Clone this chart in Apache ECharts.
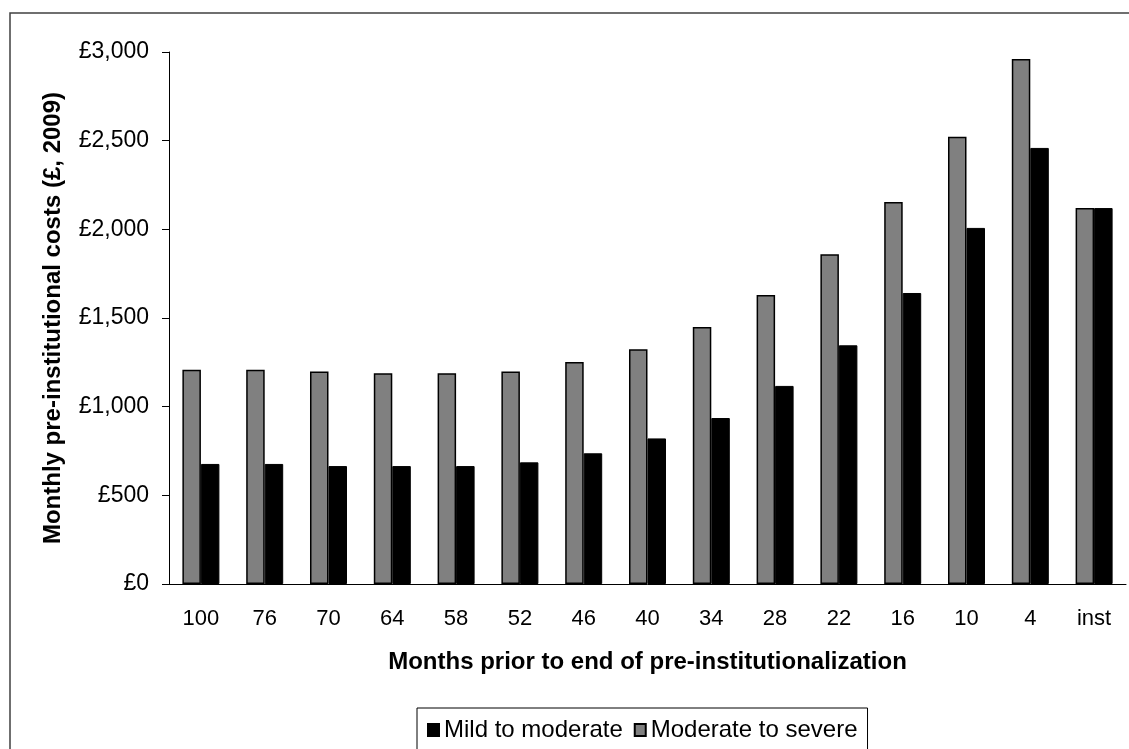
<!DOCTYPE html>
<html>
<head>
<meta charset="utf-8">
<script src="https://cdn.jsdelivr.net/npm/echarts@6/dist/echarts.min.js"></script>
<style>
html,body{margin:0;padding:0;background:#fff;}
#chart{width:1129px;height:749px;}
</style>
</head>
<body>
<div id="chart"></div>
<script>
const categories = ['100','76','70','64','58','52','46','40','34','28','22','16','10','4','inst'];
const moderateToSevere = [1208, 1208, 1199, 1188, 1188, 1199, 1252, 1324, 1449, 1630, 1859, 2154, 2522, 2961, 2120];
const mildToModerate = [677, 677, 665, 665, 665, 686, 737, 821, 936, 1117, 1346, 1641, 2008, 2459, 2120];
const yTicks = {min: 0, max: 3000, interval: 500};

const FONT = '"Liberation Sans", Arial, sans-serif';
const chart = echarts.init(document.getElementById('chart'), null, {renderer: 'canvas'});
chart.setOption({
  animation: false,
  backgroundColor: '#fff',
  graphic: [{
    type: 'rect', silent: true, z: -1,
    shape: {x: 10, y: 13, width: 1300, height: 900},
    style: {fill: 'none', stroke: '#404040', lineWidth: 1.5}
  }],
  grid: {left: 169, top: 52, right: 3, bottom: 165, containLabel: false},
  legend: {
    left: 417, top: 708,
    data: ['Mild to moderate', 'Moderate to severe'],
    icon: 'rect',
    itemWidth: 11, itemHeight: 12, itemGap: 11,
    padding: [10, 10, 20, 10],
    borderColor: '#000', borderWidth: 1, borderRadius: 0,
    backgroundColor: '#fff',
    textStyle: {fontFamily: FONT, fontSize: 24, color: '#000'}
  },
  xAxis: {
    type: 'category',
    data: categories,
    name: 'Months prior to end of pre-institutionalization',
    nameLocation: 'middle',
    nameGap: 66,
    nameTextStyle: {fontFamily: FONT, fontSize: 24, fontWeight: 'bold', color: '#000'},
    axisLine: {lineStyle: {color: '#000', width: 1}},
    axisTick: {length: 7, lineStyle: {color: '#000'}},
    axisLabel: {fontFamily: FONT, fontSize: 22, color: '#000', margin: 24}
  },
  yAxis: {
    type: 'value',
    min: yTicks.min, max: yTicks.max, interval: yTicks.interval,
    name: 'Monthly pre-institutional costs (£, 2009)',
    nameLocation: 'middle',
    nameGap: 104,
    nameTextStyle: {fontFamily: FONT, fontSize: 24, fontWeight: 'bold', color: '#000'},
    splitLine: {show: false},
    axisLine: {show: true, lineStyle: {color: '#000', width: 1}},
    axisTick: {show: true, length: 7, lineStyle: {color: '#000'}},
    axisLabel: {
      fontFamily: FONT, fontSize: 23, color: '#000', margin: 20,
      formatter: v => '£' + v.toLocaleString('en-GB')
    }
  },
  series: [
    {
      name: 'Moderate to severe', type: 'bar', data: moderateToSevere,
      barGap: '0%', barCategoryGap: '42%',
      itemStyle: {color: '#808080', borderColor: '#000', borderWidth: 1.5}
    },
    {
      name: 'Mild to moderate', type: 'bar', data: mildToModerate,
      barGap: '0%', barCategoryGap: '42%',
      itemStyle: {color: '#000', borderColor: '#000', borderWidth: 1}
    }
  ]
});
</script>
</body>
</html>
